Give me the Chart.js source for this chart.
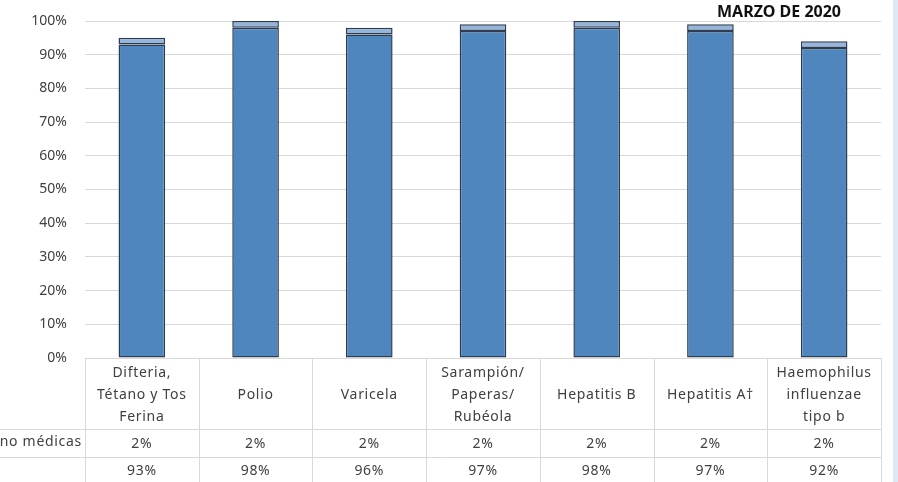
<!DOCTYPE html>
<html>
<head>
<meta charset="utf-8">
<script src="https://cdn.jsdelivr.net/npm/chart.js@4/dist/chart.umd.min.js"></script>
<style>
  html, body { margin: 0; padding: 0; background: #fff; }
  canvas { display: block; }
</style>
</head>
<body>
<canvas id="chart" width="898" height="482"></canvas>
<script>
// Datos
const categorias = [
    ['Difteria,', 'Tétano y Tos', 'Ferina'],
    ['Polio'],
    ['Varicela'],
    ['Sarampión/', 'Paperas/', 'Rubéola'],
    ['Hepatitis B'],
    ['Hepatitis A†'],
    ['Haemophilus', 'influenzae', 'tipo b']
];
const exencionesNoMedicas = [2, 2, 2, 2, 2, 2, 2];
const vacunados = [93, 98, 96, 97, 98, 97, 92];
const etiquetasFilas = ['no médicas', ''];
const titulo = 'MARZO DE 2020';

const FONT = '"Noto Sans", "Open Sans", sans-serif';
const TEXT = '#404040';
const LINEA = '#d9d9d9';

// Tabla de datos bajo el grafico
const tablaPlugin = {
    id: 'tabla',
    beforeDraw(chart) {
        const ctx = chart.ctx;
        ctx.save();
        ctx.fillStyle = '#ffffff';
        ctx.fillRect(0, 0, chart.width, chart.height);
        // franja azul a la derecha
        ctx.fillStyle = '#dee8f5';
        ctx.fillRect(893, 0, chart.width - 893, chart.height);
        ctx.restore();
    },
    afterDraw(chart) {
        const ctx = chart.ctx;
        const area = chart.chartArea;
        const x = chart.scales.x;
        const n = categorias.length;
        const colW = (area.right - area.left) / n;
        const top = area.bottom;
        const row1 = top + 71;
        const row2 = row1 + 28;
        const bottom = chart.height;

        ctx.save();
        ctx.strokeStyle = LINEA;
        ctx.lineWidth = 1;
        ctx.beginPath();
        // lineas horizontales
        ctx.moveTo(area.left, top + 0.5);
        ctx.lineTo(area.right, top + 0.5);
        ctx.moveTo(0, row1 + 0.5);
        ctx.lineTo(area.right, row1 + 0.5);
        ctx.moveTo(0, row2 + 0.5);
        ctx.lineTo(area.right, row2 + 0.5);
        // lineas verticales
        for (let i = 0; i <= n; i++) {
            const xx = Math.round(area.left + i * colW) + 0.5;
            ctx.moveTo(xx, top);
            ctx.lineTo(xx, bottom);
        }
        ctx.stroke();

        ctx.fillStyle = TEXT;
        ctx.font = '14px ' + FONT;
        ctx.letterSpacing = '0.7px';
        ctx.textAlign = 'center';
        ctx.textBaseline = 'middle';
        categorias.forEach((lineas, i) => {
            const cx = x.getPixelForValue(i);
            const startY = top + 37 - (lineas.length - 1) * 11;
            lineas.forEach((l, j) => ctx.fillText(l, cx, startY + j * 22));
            ctx.fillText(exencionesNoMedicas[i] + '%', cx, row1 + 15);
            ctx.fillText(vacunados[i] + '%', cx, row2 + 14);
        });

        ctx.textAlign = 'right';
        ctx.fillText(etiquetasFilas[0], area.left - 3, row1 + 13);
        ctx.fillText(etiquetasFilas[1], area.left - 3, row2 + 14);

        // titulo
        ctx.letterSpacing = '0px';
        ctx.font = 'bold 16px ' + FONT;
        ctx.textAlign = 'center';
        ctx.fillStyle = '#111';
        ctx.fillText(titulo, 779, 12);
        ctx.restore();
    }
};

new Chart(document.getElementById('chart'), {
    type: 'bar',
    data: {
        labels: categorias,
        datasets: [
            {
                label: 'Vacunados',
                data: vacunados,
                backgroundColor: '#4f86bd',
                borderColor: '#2e3d4d',
                borderWidth: 1.5,
                borderSkipped: false
            },
            {
                label: 'Exenciones no médicas',
                data: exencionesNoMedicas,
                backgroundColor: '#95b5dd',
                borderColor: '#2e3d4d',
                borderWidth: 1.5,
                borderSkipped: false
            }
        ]
    },
    options: {
        responsive: false,
        devicePixelRatio: 1,
        animation: false,
        layout: { padding: { top: 21, right: 17, bottom: 124, left: 0 } },
        datasets: { bar: { categoryPercentage: 1, barPercentage: 0.41 } },
        plugins: {
            legend: { display: false },
            tooltip: { enabled: false },
            title: { display: false }
        },
        scales: {
            x: { stacked: true, display: false },
            y: {
                stacked: true,
                min: 0,
                max: 100,
                afterFit: (s) => {
                    s.width = 85;
                    s.paddingTop = 0;
                    s.paddingBottom = 0;
                },
                border: { display: false },
                grid: { color: LINEA, drawTicks: false },
                ticks: {
                    stepSize: 10,
                    padding: 18,
                    color: TEXT,
                    font: { family: FONT, size: 14 },
                    callback: (v) => v + '%'
                }
            }
        }
    },
    plugins: [tablaPlugin]
});
</script>
</body>
</html>
